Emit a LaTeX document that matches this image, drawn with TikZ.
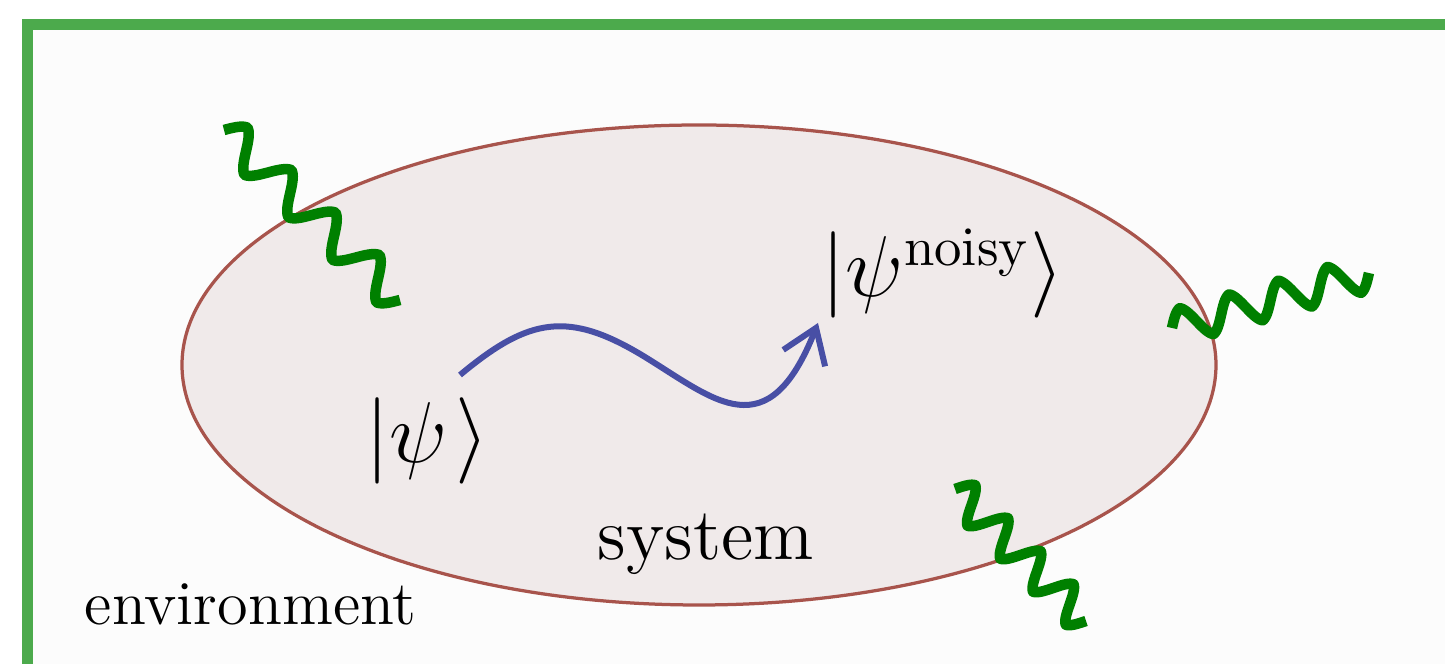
\documentclass[tikz,border=0pt]{standalone}
\usetikzlibrary{arrows.meta}
\DeclareMathSizes{17.28}{17.28}{10.95}{9}
\definecolor{frameGreen}{RGB}{76,170,76}
\definecolor{waveGreen}{RGB}{0,128,0}
\definecolor{ellStroke}{RGB}{168,84,76}
\definecolor{ellFill}{RGB}{240,234,234}
\definecolor{arrBlue}{RGB}{72,79,165}
\definecolor{bgGray}{RGB}{252,252,252}
\tikzset{
  wave/.style={waveGreen, line width=2.1pt, line join=round},
  envframe/.style={frameGreen, line width=2.2pt, fill=bgGray},
  sysell/.style={ellStroke, line width=0.65pt, fill=ellFill},
  evol/.style={arrBlue, line width=1.2pt, -{Straight Barb[length=6.5pt,width=9pt]}},
  lbl/.style={anchor=base west, inner sep=0pt, text=black}
}
\begin{document}
\begin{tikzpicture}[x=0.2pt, y=-0.2pt]
\useasboundingbox (0,0) rectangle (1445,664);
\clip (0,0) rectangle (1445,664);
\fill[white] (0,0) rectangle (1445,664);
% environment frame
\draw[envframe] (27.5,24.5) rectangle (1520,740);
% system ellipse
\coordinate (sys) at (699,365);
\draw[sysell] (sys) ellipse [x radius=517, y radius=240];
% labels
\node[lbl] (env) at (84,625) {\fontsize{12.5}{15}\selectfont environment};
\node[lbl] (syslbl) at (597,560) {\fontsize{14.8}{17}\selectfont system};
\node[lbl] (ket) at (365,463) {\fontsize{17.28}{20}\selectfont $|\psi\mskip1.5mu\rangle$};
\node[lbl] (ketn) at (821,297) {\fontsize{17.28}{20}\selectfont $|\psi^{\mathrm{noisy}}\rangle$};
% evolution arrow
\coordinate (a0) at (460,375);
\coordinate (am) at (645,357);
\coordinate (a1) at (818,323);
\draw[evol] (a0) .. controls (529,317.4) and (568.5,310.2) .. (am)
  .. controls (715,400) and (768,450) .. (a1);
% noise waves
\coordinate (w1s) at (224,130);
\coordinate (w2s) at (1172,328);
\coordinate (w3s) at (955,489);
\begin{scope}[shift={(w1s)}, rotate=-44.0]
  \draw[wave] plot[domain=0:244.7, samples=241]
    (\x, {-18*(0.7*sin(\x*5.8848)+0.3*asin(sin(\x*5.8848))/90)});
\end{scope}
\begin{scope}[shift={(w2s)}, rotate=15.6]
  \draw[wave] plot[domain=0:204.5, samples=241]
    (\x, {-17*(0.7*sin(\x*7.0416)+0.3*asin(sin(\x*7.0416))/90)});
\end{scope}
\begin{scope}[shift={(w3s)}, rotate=-45.2]
  \draw[wave] plot[domain=0:186.0, samples=241]
    (\x, {-17*(0.7*sin(\x*7.7419)+0.3*asin(sin(\x*7.7419))/90)});
\end{scope}
\end{tikzpicture}
\end{document}
